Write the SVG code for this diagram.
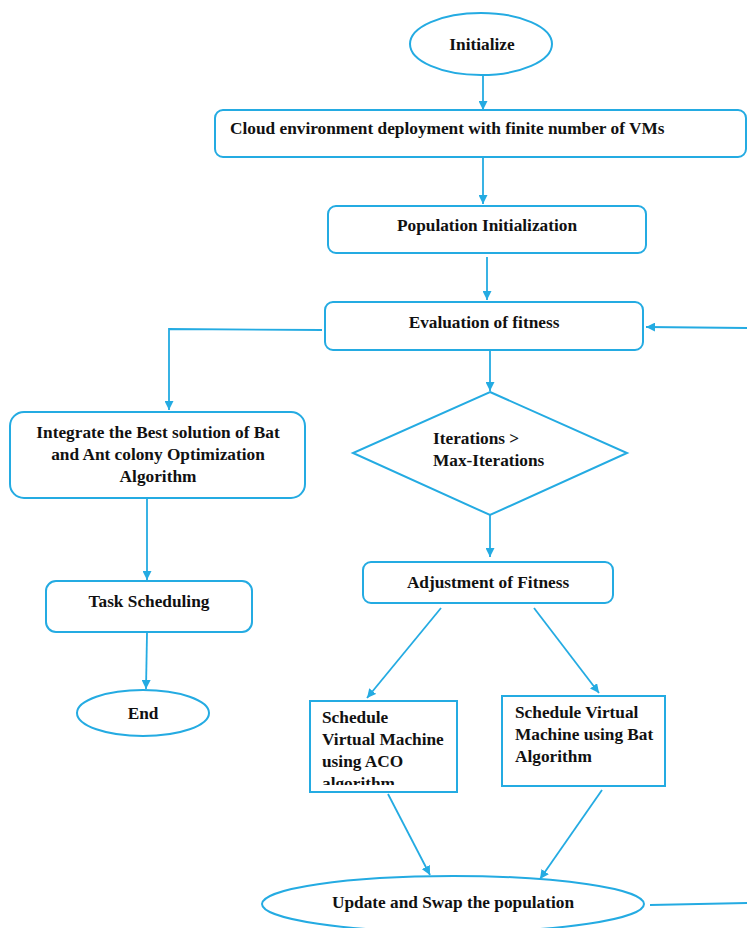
<svg xmlns="http://www.w3.org/2000/svg" width="747" height="928" viewBox="0 0 747 928">
<style>
.s{fill:#fff;stroke:#24abe2;stroke-width:2}
.c{fill:none;stroke:#24abe2;stroke-width:1.8}
text{font-family:"Liberation Serif","Times New Roman",serif;font-weight:bold;font-size:17.3px;fill:#111}
.m{text-anchor:middle}
</style>
<defs>
<marker id="a" viewBox="0 0 10 10" refX="10" refY="5" markerWidth="9" markerHeight="9" markerUnits="userSpaceOnUse" orient="auto">
<path d="M0,0 L10,5 L0,10 Z" fill="#24abe2"/>
</marker>
<clipPath id="acoClip"><rect x="310" y="701" width="147" height="84"/></clipPath>
</defs>
<rect width="747" height="928" fill="#fff"/>
<g id="connectors">
<line class="c" x1="483" y1="76" x2="483" y2="110" marker-end="url(#a)"/>
<line class="c" x1="483" y1="158" x2="483" y2="204" marker-end="url(#a)"/>
<line class="c" x1="487" y1="257" x2="487" y2="300" marker-end="url(#a)"/>
<line class="c" x1="490" y1="351" x2="490" y2="391" marker-end="url(#a)"/>
<polyline class="c" points="322,330 169,329 169,410" marker-end="url(#a)"/>
<line class="c" x1="747" y1="328" x2="646" y2="327" marker-end="url(#a)"/>
<line class="c" x1="490" y1="515" x2="490" y2="557" marker-end="url(#a)"/>
<line class="c" x1="147" y1="499" x2="147" y2="580" marker-end="url(#a)"/>
<line class="c" x1="147" y1="633" x2="146" y2="689" marker-end="url(#a)"/>
<line class="c" x1="441" y1="608" x2="367" y2="698" marker-end="url(#a)"/>
<line class="c" x1="534" y1="608" x2="599" y2="693" marker-end="url(#a)"/>
<line class="c" x1="388" y1="794" x2="430" y2="875" marker-end="url(#a)"/>
<line class="c" x1="602" y1="790" x2="540" y2="879" marker-end="url(#a)"/>
<line class="c" x1="650" y1="905" x2="747" y2="903"/>
</g>
<g id="initialize">
<ellipse class="s" cx="481" cy="44" rx="71" ry="31"/>
<text class="m" x="482" y="50">Initialize</text>
</g>
<g id="cloud">
<rect class="s" x="215" y="110" width="531" height="47" rx="8"/>
<text x="230" y="134">Cloud environment deployment with finite number of VMs</text>
</g>
<g id="population">
<rect class="s" x="328" y="206" width="318" height="47" rx="8"/>
<text class="m" x="487" y="231">Population Initialization</text>
</g>
<g id="evaluation">
<rect class="s" x="325" y="302" width="318" height="48" rx="8"/>
<text class="m" x="484" y="328">Evaluation of fitness</text>
</g>
<g id="decision">
<polygon class="s" points="490,392 627,453 490,515 353,453"/>
<text x="433" y="444">Iterations &gt;</text>
<text x="433" y="466">Max-Iterations</text>
</g>
<g id="adjustment">
<rect class="s" x="363" y="562" width="250" height="41" rx="8"/>
<text class="m" x="488" y="588">Adjustment of Fitness</text>
</g>
<g id="integrate">
<rect class="s" x="10" y="412" width="295" height="86" rx="14"/>
<text class="m" x="158" y="438">Integrate the Best solution of Bat</text>
<text class="m" x="158" y="460">and Ant colony Optimization</text>
<text class="m" x="158" y="482">Algorithm</text>
</g>
<g id="task">
<rect class="s" x="46" y="581" width="206" height="51" rx="10"/>
<text class="m" x="149" y="607">Task Scheduling</text>
</g>
<g id="end">
<ellipse class="s" cx="143" cy="713" rx="66" ry="23"/>
<text class="m" x="143" y="719">End</text>
</g>
<g id="aco">
<rect class="s" x="310" y="701" width="147" height="91"/>
<g clip-path="url(#acoClip)">
<text x="322" y="723">Schedule</text>
<text x="322" y="745">Virtual Machine</text>
<text x="322" y="767">using ACO</text>
<text x="322" y="789">algorithm</text>
</g>
</g>
<g id="bat">
<rect class="s" x="502" y="696" width="163" height="90"/>
<text x="515" y="718">Schedule Virtual</text>
<text x="515" y="740">Machine using Bat</text>
<text x="515" y="762">Algorithm</text>
</g>
<g id="update">
<ellipse class="s" cx="453" cy="904" rx="191" ry="28"/>
<text class="m" x="453" y="908">Update and Swap the population</text>
</g>
</svg>
